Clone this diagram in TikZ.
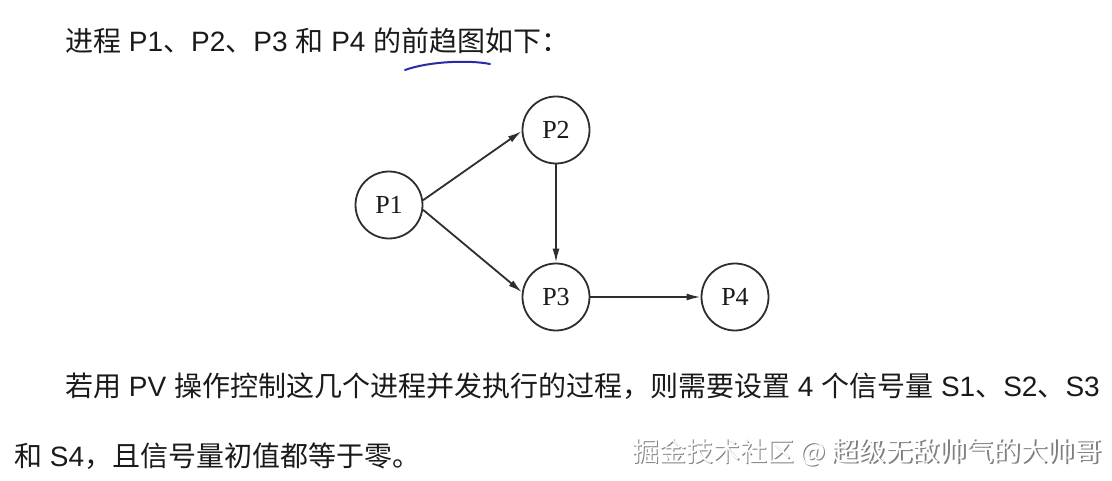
\documentclass[tikz,border=0pt]{standalone}
\usepackage{fontspec}
\setmainfont{Liberation Sans}
\newfontfamily\cjk{Noto Sans CJK SC}
\newfontfamily\serifp{Liberation Serif}
\usetikzlibrary{arrows.meta}
\definecolor{ink}{HTML}{1A1A1A}
\definecolor{edgecol}{HTML}{2E2E2E}
\definecolor{penblue}{HTML}{2A2AA8}
\tikzset{
  proc/.style={circle, draw=edgecol, line width=1.8pt, minimum size=67pt, inner sep=0pt, font=\serifp\fontsize{26}{26}\selectfont, text=ink},
  conn/.style={draw=edgecol, line width=1.8pt, -{Latex[length=14pt,width=7pt]}},
  body/.style={anchor=west, inner sep=0pt, text=ink, font=\fontsize{28}{28}\selectfont},
  wm/.style={anchor=west, inner sep=0pt, font=\cjk\fontsize{27}{27}\selectfont}
}
\begin{document}
\begin{tikzpicture}[x=1pt,y=-1pt]
\useasboundingbox[fill=white] (0,0) rectangle (1112,481);
% title line
\node[body] (title) at (65,41) {{\cjk 进程} P1{\cjk 、}P2{\cjk 、}P3 {\cjk 和} P4 {\cjk 的前趋图如下：}};
\draw[penblue, line width=2pt, line cap=round] (405,70) .. controls (430,61) and (470,60) .. (490,64);
% graph
\node[proc] (P1) at (389,205) {P1};
\node[proc] (P2) at (556,130) {P2};
\node[proc] (P3) at (556,297) {P3};
\node[proc] (P4) at (735,297) {P4};
\draw[conn] (P1.8) -- (P2.182);
\draw[conn] (P1.-8) -- (P3.172);
\draw[conn] (P2.south) -- (P3.north);
\draw[conn] (P3.east) -- (P4.west);
% bottom text
\node[body] (l1) at (65,386) {{\cjk 若用} PV {\cjk 操作控制这几个进程并发执行的过程，则需要设置} 4 {\cjk 个信号量} S1{\cjk 、}S2{\cjk 、}S3};
\node[body] (l2) at (14,456) {{\cjk 和} S4{\cjk ，且信号量初值都等于零。}};
% watermark
\node[wm, text=gray] (wms) at (633.2,453.2) {掘金技术社区 @ 超级无敌帅气的大帅哥};
\node[wm, text=white] (wm) at (632,452) {掘金技术社区 @ 超级无敌帅气的大帅哥};
\end{tikzpicture}
\end{document}
